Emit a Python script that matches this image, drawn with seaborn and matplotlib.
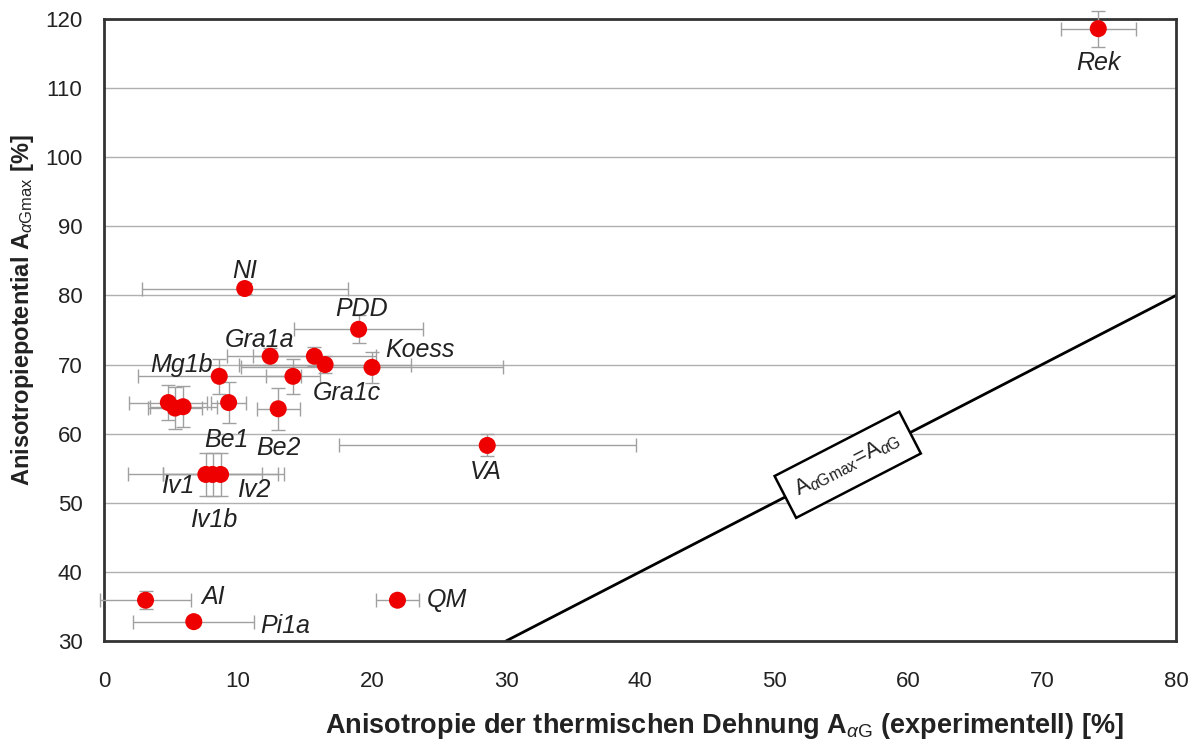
import matplotlib
matplotlib.use("Agg")
import matplotlib.pyplot as plt
import seaborn as sns
import pandas as pd

# ---- data ----
names = ["Rek", "NI", "PDD", "Gra1a", "", "", "Koess", "Mg1b", "Gra1c", "Be1", "Be2",
         "", "", "", "Iv1", "Iv1b", "Iv2", "VA", "AI", "Pi1a", "QM"]
x_vals = [74.2, 10.5, 19.0, 12.4, 15.7, 16.5, 20.0, 8.6, 14.1, 9.3, 13.0,
          4.8, 5.3, 5.9, 7.6, 8.1, 8.7, 28.6, 3.1, 6.7, 21.9]
y_vals = [118.6, 81.0, 75.1, 71.2, 71.2, 70.0, 69.6, 68.3, 68.3, 64.5, 63.6,
          64.5, 63.7, 63.9, 54.1, 54.1, 54.1, 58.3, 35.9, 32.8, 35.9]
x_err = [2.8, 7.7, 4.8, 3.2, 4.6, 6.4, 9.8, 6.1, 2.0, 1.3, 1.6,
         2.9, 2.0, 2.5, 5.8, 3.7, 4.3, 11.1, 3.4, 4.5, 1.6]
y_err = [2.6, 0.8, 2.0, 1.2, 1.4, 1.2, 2.2, 2.5, 2.5, 3.0, 3.0,
         2.5, 3.0, 3.0, 3.1, 3.1, 3.1, 1.6, 1.3, 0.5, 0.5]
line_x = [30, 80]
line_y = [30, 80]
x_ticks = list(range(0, 81, 10))
y_ticks = list(range(30, 121, 10))

# label offsets in pixels (layout)
label_offsets = {
    "Rek": (0, -34), "NI": (0, 18), "PDD": (3, 20), "Gra1a": (-11, 16),
    "Koess": (48, 17), "Mg1b": (-38, 11), "Gra1c": (54, -17), "Be1": (-2, -37),
    "Be2": (0, -39), "Iv1": (-28, -12), "Iv2": (33, -16), "Iv1b": (1, -46),
    "VA": (-1, -27), "AI": (68, 3), "Pi1a": (91, -4), "QM": (49, 0),
}

df = pd.DataFrame({"name": names, "x": x_vals, "y": y_vals, "xerr": x_err, "yerr": y_err})

sns.set_theme(style="white")
plt.rcParams["font.family"] = ["Liberation Sans", "DejaVu Sans"]
plt.rcParams["mathtext.fontset"] = "custom"
plt.rcParams["mathtext.rm"] = "Liberation Sans"
plt.rcParams["mathtext.it"] = "Liberation Sans:italic"
plt.rcParams["mathtext.bf"] = "Liberation Sans:bold"

fig = plt.figure(figsize=(11.94, 7.42), dpi=100)
ax = fig.add_axes([104 / 1194, 1 - 641 / 742, 1072 / 1194, 622 / 742])

ax.set_xlim(0, 80)
ax.set_ylim(30, 120)
ax.set_yticks(y_ticks)
ax.set_xticks(x_ticks)
ax.yaxis.grid(True, color="#b0b0b0", linewidth=1.0)
ax.xaxis.grid(False)
ax.set_axisbelow(True)

# diagonal line
ax.plot(line_x, line_y, color="black", linewidth=2.0, zorder=2)

# error bars
ax.errorbar(df["x"], df["y"], xerr=df["xerr"], yerr=df["yerr"], fmt="none",
            ecolor="#a0a0a0", elinewidth=1.0, capsize=5, capthick=1.0,
            zorder=3, clip_on=False)

# points
sns.scatterplot(data=df, x="x", y="y", ax=ax, color="#ee0000", s=150,
                edgecolor="none", zorder=4, clip_on=False, legend=False)

for n, xv, yv in zip(names, x_vals, y_vals):
    if n:
        dx, dy = label_offsets[n]
        ax.annotate(n, (xv, yv), xytext=(dx, dy), textcoords="offset pixels",
                    ha="center", va="center", fontsize=18, fontstyle="italic",
                    color="#222222", zorder=5)

# line label box
ax.text(55.5, 55.5, r"A$_{\alpha\mathrm{Gmax}}$=A$_{\alpha\mathrm{G}}$",
        rotation=27.3, rotation_mode="anchor", ha="center", va="center",
        fontsize=16, color="#222222", zorder=6,
        bbox=dict(boxstyle="square,pad=0.55", facecolor="white", edgecolor="black", linewidth=1.8))

for s in ax.spines.values():
    s.set_color("#333333")
    s.set_linewidth(2.0)

ax.tick_params(axis="both", which="both", direction="out", length=4.5, width=1,
               color="#999999", labelsize=16, labelcolor="#222222")
ax.tick_params(axis="y", pad=11)
ax.tick_params(axis="x", pad=17)

ax.set_xlabel(r"Anisotropie der thermischen Dehnung A$_{\alpha\mathrm{G}}$ (experimentell) [%]",
              fontsize=19.5, fontweight="bold", color="#222222")
ax.set_ylabel(r"Anisotropiepotential A$_{\alpha\mathrm{Gmax}}$ [%]",
              fontsize=17, fontweight="bold", color="#222222")
ax.xaxis.set_label_coords(0.579, -0.113)
ax.yaxis.set_label_coords(-0.063, 0.532)

fig.savefig("out.png", dpi=100)
